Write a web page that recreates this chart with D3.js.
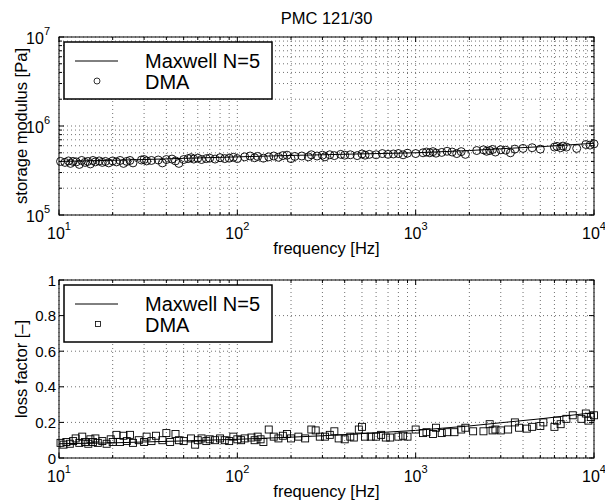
<!DOCTYPE html>
<html>
<head>
<meta charset="utf-8">
<script src="https://cdn.jsdelivr.net/npm/d3@7"></script>
<style>
  body { margin: 0; background: #fff; }
  text { font-family: "Liberation Sans", Arial, Helvetica, sans-serif; fill: #000; }
</style>
</head>
<body>
<svg id="chart" width="605" height="504"></svg>
<script>
// PMC 121/30 — storage modulus and loss factor vs frequency, Maxwell fit vs DMA points.

const titleText = "PMC 121/30";
const xLabel = "frequency [Hz]";
const xTicks = [10, 100, 1000, 10000];

// Maxwell N=5 fit curves
const fitFreq    = [10, 20, 30, 50, 100, 200, 300, 500, 1000, 2000, 3000, 5000, 10000];
const fitStorage = [4.0e5, 4.12e5, 4.2e5, 4.33e5, 4.5e5, 4.67e5, 4.75e5, 4.86e5, 5.0e5, 5.3e5, 5.55e5, 5.85e5, 6.4e5];
const fitLoss    = [0.08, 0.085, 0.09, 0.096, 0.105, 0.117, 0.125, 0.137, 0.155, 0.18, 0.198, 0.22, 0.255];

// DMA measurements: storage modulus [Pa]
const storageFreq = [10.2, 10.8, 11.3, 11.6, 12, 12.5, 13, 13.4, 14, 14.5, 15, 15.5, 16, 16.8, 17.5, 18.2, 19, 20, 21, 22,
  23, 24, 25, 26, 29, 30, 31, 33, 36, 38, 40, 43, 45, 47, 50, 53, 55, 57, 60, 63,
  67, 70, 75, 80, 85, 90, 95, 100, 110, 118, 125, 130, 140, 150, 160, 170, 180, 190, 200, 210,
  230, 250, 260, 280, 300, 310, 330, 350, 380, 400, 430, 470, 500, 520, 550, 600, 650, 700, 750, 800,
  850, 900, 1000, 1100, 1150, 1200, 1250, 1300, 1400, 1500, 1600, 1700, 1800, 1900, 2200, 2400, 2500, 2600, 2700, 2800,
  3000, 3200, 3400, 3600, 4000, 4500, 5000, 6000, 6200, 6500, 6700, 7000, 8000, 9000, 9500, 10000];
const storageVal = [4.0e5, 3.9e5, 4.05e5, 3.8e5, 4.0e5, 3.95e5, 3.7e5, 4.1e5, 3.9e5, 4.0e5, 3.75e5, 4.1e5, 3.95e5, 4.05e5, 3.9e5, 4.0e5, 3.85e5, 4.05e5, 3.95e5, 4.1e5,
  3.8e5, 4.0e5, 4.1e5, 3.85e5, 4.15e5, 4.2e5, 4.05e5, 4.1e5, 4.15e5, 3.85e5, 4.2e5, 4.25e5, 4.05e5, 3.8e5, 4.2e5, 4.3e5, 4.4e5, 4.25e5, 4.35e5, 4.2e5,
  4.3e5, 4.35e5, 4.25e5, 4.4e5, 4.3e5, 4.35e5, 4.45e5, 4.3e5, 4.5e5, 4.6e5, 4.4e5, 4.55e5, 4.35e5, 4.5e5, 4.6e5, 4.45e5, 4.65e5, 4.7e5, 4.3e5, 4.55e5,
  4.6e5, 4.5e5, 4.75e5, 4.6e5, 4.7e5, 4.5e5, 4.75e5, 4.65e5, 4.8e5, 4.7e5, 4.75e5, 4.65e5, 4.85e5, 4.7e5, 4.8e5, 4.75e5, 4.9e5, 4.8e5, 4.85e5, 4.9e5,
  4.75e5, 4.95e5, 4.9e5, 5.0e5, 5.1e5, 5.0e5, 5.15e5, 4.95e5, 5.05e5, 5.2e5, 5.1e5, 4.9e5, 5.15e5, 4.8e5, 5.3e5, 5.4e5, 5.2e5, 5.3e5, 5.45e5, 5.1e5,
  5.4e5, 5.35e5, 5.0e5, 5.5e5, 5.6e5, 5.7e5, 5.5e5, 5.8e5, 5.9e5, 5.7e5, 5.95e5, 5.8e5, 5.6e5, 6.2e5, 6.1e5, 6.3e5];

// DMA measurements: loss factor [-]
const lossFreq = [10.2, 10.6, 11, 11.5, 12, 12.4, 13, 13.5, 14, 14.6, 15, 15.5, 16, 16.5, 17.5, 18.5, 19.5, 20, 21, 22,
  23, 24, 25, 26, 28, 30, 31, 33, 35, 38, 40, 42, 45, 47, 50, 55, 58, 60, 63, 67,
  70, 75, 80, 85, 90, 95, 100, 105, 110, 120, 125, 130, 135, 140, 150, 160, 170, 180, 190, 200,
  220, 240, 260, 275, 290, 310, 330, 350, 370, 400, 430, 450, 480, 500, 520, 560, 600, 640, 680, 720,
  800, 850, 900, 1000, 1100, 1150, 1250, 1300, 1400, 1500, 1650, 1800, 1900, 2100, 2400, 2600, 2700, 2800, 3000, 3300,
  3600, 3800, 4200, 4500, 5000, 5200, 6000, 6200, 6500, 7000, 7600, 8500, 9000, 9300, 9600, 10000];
const lossVal = [0.085, 0.075, 0.09, 0.08, 0.095, 0.11, 0.085, 0.12, 0.09, 0.08, 0.105, 0.09, 0.11, 0.085, 0.095, 0.08, 0.105, 0.09, 0.13, 0.09,
  0.125, 0.095, 0.13, 0.085, 0.1, 0.09, 0.12, 0.095, 0.125, 0.1, 0.14, 0.09, 0.135, 0.1, 0.095, 0.11, 0.075, 0.1, 0.11, 0.095,
  0.105, 0.1, 0.11, 0.1, 0.095, 0.12, 0.105, 0.1, 0.11, 0.115, 0.1, 0.12, 0.105, 0.09, 0.16, 0.12, 0.11, 0.125, 0.135, 0.11,
  0.12, 0.11, 0.16, 0.155, 0.12, 0.12, 0.13, 0.15, 0.11, 0.105, 0.12, 0.115, 0.16, 0.175, 0.12, 0.12, 0.12, 0.13, 0.115, 0.115,
  0.12, 0.125, 0.12, 0.16, 0.14, 0.145, 0.135, 0.17, 0.14, 0.145, 0.145, 0.16, 0.17, 0.15, 0.15, 0.19, 0.155, 0.16, 0.155, 0.16,
  0.2, 0.17, 0.165, 0.175, 0.18, 0.2, 0.175, 0.21, 0.19, 0.22, 0.24, 0.22, 0.25, 0.21, 0.23, 0.24];

const storageTicks = [1e5, 1e6, 1e7];
const lossTicks = [0, 0.2, 0.4, 0.6, 0.8, 1];
const lossTickLabels = ["0", "0.2", "0.4", "0.6", "0.8", "1"];

const svg = d3.select("#chart");
const L = 59, R = 594;

const x1 = d3.scaleLog().domain([10, 1e4]).range([L, R]);
const yTop = d3.scaleLog().domain([1e5, 1e7]).range([215, 37]);
const yBot = d3.scaleLinear().domain([0, 1]).range([458, 280]);

function drawPanel(y, opts) {
  const g = svg.append("g");
  const [y0, y1] = y.range();

  // grid: all x decades + minors
  const xAll = x1.ticks();
  g.append("g").selectAll("line").data(xAll).join("line")
    .attr("x1", d => x1(d)).attr("x2", d => x1(d)).attr("y1", y1).attr("y2", y0)
    .attr("stroke", "#333").attr("stroke-width", 0.7).attr("stroke-dasharray", "1 3");
  const yGrid = opts.log ? y.ticks() : opts.ticks;
  g.append("g").selectAll("line").data(yGrid).join("line")
    .attr("x1", L).attr("x2", R).attr("y1", d => y(d)).attr("y2", d => y(d))
    .attr("stroke", "#333").attr("stroke-width", 0.7).attr("stroke-dasharray", "1 3");

  // inward ticks on all four sides
  const isMajor = d => Math.abs(Math.log10(d) - Math.round(Math.log10(d))) < 1e-6;
  const tk = g.append("g").attr("stroke", "#000").attr("stroke-width", 1);
  xAll.forEach(d => {
    const len = isMajor(d) ? 5 : 3;
    tk.append("line").attr("x1", x1(d)).attr("x2", x1(d)).attr("y1", y0).attr("y2", y0 - len);
    tk.append("line").attr("x1", x1(d)).attr("x2", x1(d)).attr("y1", y1).attr("y2", y1 + len);
  });
  yGrid.forEach(d => {
    const len = (!opts.log || isMajor(d)) ? 5 : 3;
    tk.append("line").attr("x1", L).attr("x2", L + len).attr("y1", y(d)).attr("y2", y(d));
    tk.append("line").attr("x1", R).attr("x2", R - len).attr("y1", y(d)).attr("y2", y(d));
  });

  // axes box
  g.append("rect").attr("x", L).attr("y", y1).attr("width", R - L).attr("height", y0 - y1)
    .attr("fill", "none").attr("stroke", "#000").attr("stroke-width", 1);

  // x tick labels 10^n
  const xl = g.append("g").attr("font-size", 16);
  xTicks.forEach(d => {
    const t = xl.append("text").attr("x", x1(d)).attr("y", y0 + 24).attr("text-anchor", "middle");
    t.append("tspan").text("10");
    t.append("tspan").attr("font-size", 11).attr("dy", -9).text(Math.round(Math.log10(d)));
  });

  // y tick labels
  const yl = g.append("g").attr("font-size", 16);
  if (opts.log) {
    storageTicks.forEach(d => {
      const t = yl.append("text").attr("x", L - 9).attr("y", y(d) + 7).attr("text-anchor", "end");
      t.append("tspan").text("10");
      t.append("tspan").attr("font-size", 11).attr("dy", -9).text(Math.round(Math.log10(d)));
    });
  } else {
    opts.ticks.forEach((d, i) => {
      yl.append("text").attr("x", L - 3).attr("y", y(d) + 5.5).attr("text-anchor", "end")
        .attr("font-size", 15).text(lossTickLabels[i]);
    });
  }

  // x label
  g.append("text").attr("x", (L + R) / 2).attr("y", y0 + 39).attr("text-anchor", "middle")
    .attr("font-size", 16.5).text(xLabel);
  // y label
  g.append("text").attr("transform", `translate(27,${(y0 + y1) / 2}) rotate(-90)`)
    .attr("text-anchor", "middle").attr("font-size", 16.5).text(opts.yLabel);

  // markers
  const pts = opts.freq.map((f, i) => [f, opts.val[i]]);
  const mk = g.append("g").attr("fill", "none").attr("stroke", "#000").attr("stroke-width", 0.9);
  if (opts.marker === "circle") {
    mk.selectAll("circle").data(pts).join("circle")
      .attr("cx", d => x1(d[0])).attr("cy", d => y(d[1])).attr("r", 4);
  } else {
    mk.selectAll("rect").data(pts).join("rect")
      .attr("x", d => x1(d[0]) - 3.5).attr("y", d => y(d[1]) - 3.5).attr("width", 7).attr("height", 7);
  }

  // fit line
  const line = d3.line().x(d => x1(d[0])).y(d => y(d[1]));
  g.append("path").datum(fitFreq.map((f, i) => [f, opts.fit[i]]))
    .attr("d", line).attr("fill", "none").attr("stroke", "#000").attr("stroke-width", 1);

  // legend
  const lg = g.append("g").attr("transform", `translate(64,${y1 + 5})`);
  lg.append("rect").attr("width", 208).attr("height", 57).attr("fill", "#fff")
    .attr("stroke", "#000").attr("stroke-width", 1.5);
  lg.append("line").attr("x1", 11).attr("x2", 54).attr("y1", 19).attr("y2", 19)
    .attr("stroke", "#000").attr("stroke-width", 1);
  if (opts.marker === "circle") {
    lg.append("circle").attr("cx", 33).attr("cy", 39).attr("r", 3)
      .attr("fill", "none").attr("stroke", "#000").attr("stroke-width", 0.8);
  } else {
    lg.append("rect").attr("x", 31.5).attr("y", 36.5).attr("width", 5).attr("height", 5)
      .attr("fill", "none").attr("stroke", "#000").attr("stroke-width", 0.8);
  }
  lg.append("text").attr("x", 81).attr("y", 26).attr("font-size", 20).text("Maxwell N=5");
  lg.append("text").attr("x", 81).attr("y", 47).attr("font-size", 20).text("DMA");
}

svg.append("text").attr("x", (L + R) / 2).attr("y", 24).attr("text-anchor", "middle")
  .attr("font-size", 16.5).text(titleText);

drawPanel(yTop, { log: true, yLabel: "storage modulus [Pa]", freq: storageFreq, val: storageVal,
  fit: fitStorage, marker: "circle" });
drawPanel(yBot, { log: false, ticks: lossTicks, yLabel: "loss factor [\u2013]", freq: lossFreq, val: lossVal,
  fit: fitLoss, marker: "square" });
</script>
</body>
</html>
